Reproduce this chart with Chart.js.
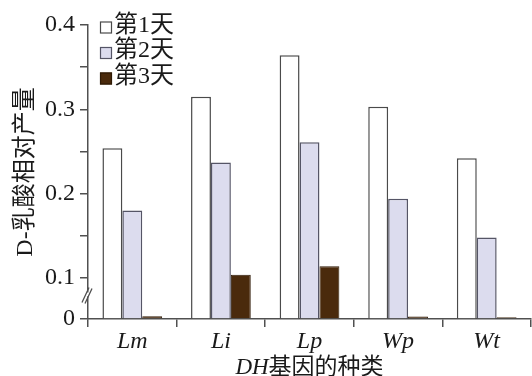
<!DOCTYPE html>
<html>
<head>
<meta charset="utf-8">
<script src="https://cdn.jsdelivr.net/npm/chart.js@4/dist/chart.umd.min.js"></script>
<style>
  html, body { margin: 0; padding: 0; background: #ffffff; }
  #wrap { width: 532px; height: 376px; }
</style>
</head>
<body>
<div id="wrap"><canvas id="c" width="532" height="376"></canvas></div>
<script>
// ---- data ----
const categories = ['Lm', 'Li', 'Lp', 'Wp', 'Wt'];
const seriesNames = ['第1天', '第2天', '第3天'];
const day1 = [0.254, 0.315, 0.364, 0.303, 0.242];
const day2 = [0.180, 0.237, 0.261, 0.194, 0.148];
const day3 = [0.007, 0.104, 0.114, 0.006, 0.004];
const yTickValues = [0, 0.1, 0.15, 0.2, 0.25, 0.3, 0.35, 0.4];
const yTickLabels = ['0', '0.1', '', '0.2', '', '0.3', '', '0.4'];
const yTitle = 'D-乳酸相对产量';
const xTitleItalic = 'DH';
const xTitleRest = '基因的种类';

// ---- styling ----
const SERIF = '"Liberation Serif", "Times New Roman", "Noto Sans CJK SC", serif';
const INK = '#1a1a1a';
const AXIS = '#505050';
const fills = ['#ffffff', '#dcdcee', '#4a2a0c'];
const edges = ['#4a4a4a', '#555566', '#2e1a06'];

// Linear scale with a squeezed segment below the axis break (0 .. 0.1).
const AXIS_BREAK = 0.1;
const LOWER_SQUEEZE = 0.486;
class BrokenLinearScale extends Chart.LinearScale {
  _u(v) { return v <= AXIS_BREAK ? v * LOWER_SQUEEZE : AXIS_BREAK * LOWER_SQUEEZE + (v - AXIS_BREAK); }
  _inv(u) { const b = AXIS_BREAK * LOWER_SQUEEZE; return u <= b ? u / LOWER_SQUEEZE : AXIS_BREAK + (u - b); }
  buildTicks() { return yTickValues.map(v => ({ value: v })); }
  getPixelForValue(value) {
    if (value === null || value === undefined || isNaN(value)) return NaN;
    const u0 = this._u(this.min), u1 = this._u(this.max);
    return this.getPixelForDecimal((this._u(value) - u0) / (u1 - u0));
  }
  getValueForPixel(pixel) {
    const u0 = this._u(this.min), u1 = this._u(this.max);
    return this._inv(u0 + this.getDecimalForPixel(pixel) * (u1 - u0));
  }
}
BrokenLinearScale.id = 'brokenLinear';
BrokenLinearScale.defaults = Chart.LinearScale.defaults;
Chart.register(BrokenLinearScale);

// Legend, x-axis title and the "//" break mark on the y axis.
const decorations = {
  id: 'decorations',
  afterDraw(chart) {
    const ctx = chart.ctx;
    const area = chart.chartArea;
    const y = chart.scales.y;
    ctx.save();

    // legend
    const box = 12;
    const lx = area.left + 12;
    let ly = area.top + 2.5;
    chart.data.datasets.forEach((ds) => {
      ctx.fillStyle = ds.backgroundColor;
      ctx.fillRect(lx, ly - box / 2, box, box);
      ctx.strokeStyle = ds.borderColor;
      ctx.lineWidth = 1.2;
      ctx.strokeRect(lx + 0.5, ly - box / 2 + 0.5, box - 1, box - 1);
      ctx.fillStyle = INK;
      ctx.font = '24px ' + SERIF;
      ctx.textBaseline = 'middle';
      ctx.textAlign = 'left';
      ctx.fillText(ds.label, lx + box + 2, ly - 2);
      ly += 25.5;
    });

    // x-axis title: italic "DH" followed by upright text
    const fItal = 'italic 23px ' + SERIF;
    const fUp = '23px ' + SERIF;
    ctx.font = fItal;
    const w1 = ctx.measureText(xTitleItalic).width;
    ctx.font = fUp;
    const w2 = ctx.measureText(xTitleRest).width;
    const cx = (area.left + area.right) / 2;
    const bx = cx - (w1 + w2) / 2;
    const by = 374;
    ctx.textBaseline = 'alphabetic';
    ctx.fillStyle = INK;
    ctx.font = fItal;
    ctx.fillText(xTitleItalic, bx, by);
    ctx.font = fUp;
    ctx.fillText(xTitleRest, bx + w1, by);

    // axis break
    const ax = area.left;
    const cy = y.getPixelForValue(0.06);
    ctx.fillStyle = '#ffffff';
    ctx.fillRect(ax - 2, cy - 2, 4, 4);
    ctx.strokeStyle = AXIS;
    ctx.lineWidth = 1.3;
    ctx.beginPath();
    ctx.moveTo(ax - 6, cy + 8); ctx.lineTo(ax + 1, cy - 7);
    ctx.moveTo(ax - 3, cy + 9); ctx.lineTo(ax + 4, cy - 6);
    ctx.stroke();
    ctx.restore();
  }
};

new Chart(document.getElementById('c'), {
  type: 'bar',
  data: {
    labels: categories,
    datasets: [day1, day2, day3].map((vals, i) => ({
      label: seriesNames[i],
      data: vals,
      backgroundColor: fills[i],
      borderColor: edges[i],
      borderWidth: i === 2 ? 1 : 1.5,
      categoryPercentage: 0.674,
      barPercentage: 1.0
    }))
  },
  options: {
    responsive: false,
    animation: false,
    devicePixelRatio: 1,
    layout: { padding: { top: 25, right: 1, left: 0, bottom: 0 } },
    plugins: { legend: { display: false }, tooltip: { enabled: false } },
    scales: {
      x: {
        offset: true,
        grid: { offset: true, drawOnChartArea: false, drawTicks: true, tickLength: 8, color: AXIS, lineWidth: 1.5 },
        border: { color: AXIS, width: 1.5 },
        ticks: { font: { family: SERIF, style: 'italic', size: 24 }, color: INK, padding: 0, maxRotation: 0 },
        afterFit: (s) => { s.height = 57; }
      },
      y: {
        type: 'brokenLinear',
        min: 0,
        max: 0.4,
        grid: { drawOnChartArea: false, drawTicks: true, tickLength: 8, color: AXIS, lineWidth: 1.5 },
        border: { color: AXIS, width: 1.5 },
        ticks: {
          autoSkip: false,
          font: { family: SERIF, size: 24 },
          color: INK,
          padding: 5,
          callback: (value, index) => yTickLabels[index]
        },
        title: {
          display: true,
          text: yTitle,
          font: { family: SERIF, size: 24 },
          color: INK,
          padding: { top: 11, bottom: 0 }
        },
        afterFit: (s) => { s.width = 88; }
      }
    }
  },
  plugins: [decorations]
});
</script>
</body>
</html>
